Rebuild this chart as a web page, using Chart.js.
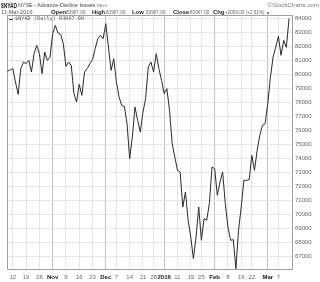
<!DOCTYPE html>
<html>
<head>
<meta charset="utf-8">
<script src="https://cdn.jsdelivr.net/npm/chart.js@4.4.0/dist/chart.umd.min.js"></script>
<style>
  body { margin: 0; background: #fff; }
  #wrap { position: relative; width: 320px; height: 282px; font-family: "Liberation Sans", Arial, sans-serif; color: #333; overflow: hidden; }
  #chart { position: absolute; left: 0; top: 0; }
  .t { position: absolute; white-space: nowrap; line-height: 1; font-size: 6px; transform-origin: left top; }
  .b { font-weight: bold; color: #222; transform: scale(.98); }
  .v { color: #666; transform: scale(.77); }
</style>
</head>
<body>
<div id="wrap">
  <canvas id="chart" width="320" height="282"></canvas>

  <div class="t" style="left:1px;top:1.6px;font-size:7px;font-weight:bold;color:#222;transform:scaleX(.7)">$NYAD</div>
  <div class="t" style="left:18px;top:2.4px;color:#444;transform:scale(.9)">NYSE - Advance-Decline Issues</div>
  <div class="t" style="left:97px;top:3.4px;color:#666;transform:scale(.7)">INDX</div>
  <div class="t" style="right:1px;top:2px;color:#777;transform-origin:right top;transform:scale(1.03)">©StockCharts.com</div>

  <div class="t" style="left:1px;top:8.8px;color:#555;transform:scale(.93)">11-Mar-2016</div>
  <div class="t b" style="left:51px;top:8.6px">Open</div>
  <div class="t v" style="left:66px;top:9.7px">83967.00</div>
  <div class="t b" style="left:92px;top:8.6px">High</div>
  <div class="t v" style="left:106px;top:9.7px">83967.00</div>
  <div class="t b" style="left:132px;top:8.6px">Low</div>
  <div class="t v" style="left:146px;top:9.7px">83967.00</div>
  <div class="t b" style="left:173px;top:8.6px">Close</div>
  <div class="t v" style="left:190px;top:9.7px">83967.00</div>
  <div class="t b" style="left:213px;top:8.6px">Chg</div>
  <div class="t v" style="left:225px;top:9.7px">+2059.00 (+2.51%) ▲</div>

  <div class="t" style="left:9px;top:18.5px;width:4px;height:1px;background:#333"></div>
  <div class="t" style="left:15px;top:16.4px;font-family:'DejaVu Sans Mono',monospace;color:#555;transform:scale(.87)">$NYAD (Daily) 83967.00</div>
</div>

<script>
const tradeDays = [
  '2015-10-08','2015-10-09','2015-10-12','2015-10-13','2015-10-14','2015-10-15','2015-10-16',
  '2015-10-19','2015-10-20','2015-10-21','2015-10-22','2015-10-23','2015-10-26','2015-10-27',
  '2015-10-28','2015-10-29','2015-10-30',
  '2015-11-02','2015-11-03','2015-11-04','2015-11-05','2015-11-06','2015-11-09','2015-11-10',
  '2015-11-11','2015-11-12','2015-11-13','2015-11-16','2015-11-17','2015-11-18','2015-11-19',
  '2015-11-20','2015-11-23','2015-11-24','2015-11-25','2015-11-27','2015-11-30',
  '2015-12-01','2015-12-02','2015-12-03','2015-12-04','2015-12-07','2015-12-08','2015-12-09',
  '2015-12-10','2015-12-11','2015-12-14','2015-12-15','2015-12-16','2015-12-17','2015-12-18',
  '2015-12-21','2015-12-22','2015-12-23','2015-12-24','2015-12-28','2015-12-29','2015-12-30',
  '2015-12-31',
  '2016-01-04','2016-01-05','2016-01-06','2016-01-07','2016-01-08','2016-01-11','2016-01-12',
  '2016-01-13','2016-01-14','2016-01-15','2016-01-19','2016-01-20','2016-01-21','2016-01-22',
  '2016-01-25','2016-01-26','2016-01-27','2016-01-28','2016-01-29',
  '2016-02-01','2016-02-02','2016-02-03','2016-02-04','2016-02-05','2016-02-08','2016-02-09',
  '2016-02-10','2016-02-11','2016-02-12','2016-02-16','2016-02-17','2016-02-18','2016-02-19',
  '2016-02-22','2016-02-23','2016-02-24','2016-02-25','2016-02-26','2016-02-29',
  '2016-03-01','2016-03-02','2016-03-03','2016-03-04','2016-03-07','2016-03-08','2016-03-09',
  '2016-03-10','2016-03-11'
];

const adValues = [
  80200, 80300, 80386, 79430, 78550, 80386, 80857, 80743, 80978, 80143,
  81457, 82050, 81457, 80028, 81571, 80978, 81214,
  82886, 83478, 82929, 82836, 82171, 80550, 80857, 80621, 78600, 78000,
  79264, 78479, 80143, 80386, 80743, 81028, 81814, 82529, 82764, 82529,
  83600, 81928, 80264, 81100, 79428, 78357, 77764, 77693, 76457, 73957,
  75500, 77643, 76693, 75857, 77286, 78243, 80500, 80857, 80143, 81457,
  80386, 79550,
  78600, 78957, 77407, 75028, 74071, 73121, 73000, 70500, 71571, 69550,
  68357, 66814, 68357, 70500, 68121, 69671, 69550, 70743, 73357,
  73243, 71336, 72286, 73000, 70743, 69071, 68121, 68171, 66100, 68836,
  70500, 72407, 72407, 72457, 74193, 73121, 74550, 75621, 76336, 76457,
  77886, 79786, 81214, 81928, 82693, 81336, 82407, 81908, 83967
];

const tickDays = ['2015-10-12','2015-10-19','2015-10-26','2015-11-02','2015-11-09','2015-11-16',
  '2015-11-23','2015-12-01','2015-12-07','2015-12-14','2015-12-21','2015-12-28','2016-01-04',
  '2016-01-11','2016-01-19','2016-01-25','2016-02-01','2016-02-08','2016-02-16','2016-02-22',
  '2016-03-01','2016-03-07'];
const tickText = ['12','19','26','Nov','9','16','23','Dec','7','14','21','28','2016',
  '11','19','25','Feb','8','16','22','Mar','7'];
const monthText = ['Nov','Dec','2016','Feb','Mar'];

const yTicks = [67000, 68000, 69000, 70000, 71000, 72000, 73000, 74000, 75000,
  76000, 77000, 78000, 79000, 80000, 81000, 82000, 83000, 84000];

const tickIdx = tickDays.map((d) => tradeDays.indexOf(d));
const isMonth = (i) => monthText.includes(tickText[i]);

// box around the plot area
const frame = {
  id: 'frame',
  beforeDatasetsDraw(chart) {
    const { ctx, chartArea: a } = chart;
    ctx.save();
    ctx.strokeStyle = '#a0a0a0';
    ctx.lineWidth = 1;
    ctx.strokeRect(Math.round(a.left) + 0.5, Math.round(a.top) + 0.5,
      Math.round(a.width) - 1, Math.round(a.height) - 1);
    ctx.restore();
  },
};

new Chart(document.getElementById('chart'), {
  type: 'line',
  data: {
    datasets: [
      {
        label: '$NYAD (Daily)',
        data: adValues.map((v, i) => ({ x: i, y: v })),
        borderColor: '#2a2a2a',
        borderWidth: 1,
        pointRadius: 0,
        tension: 0,
        fill: false,
      },
    ],
  },
  options: {
    responsive: false,
    animation: false,
    layout: { padding: { left: 7, top: 15, right: 0, bottom: 0 } },
    plugins: { legend: { display: false }, tooltip: { enabled: false } },
    scales: {
      x: {
        type: 'linear',
        min: -0.2,
        max: 107.5,
        afterBuildTicks: (s) => { s.ticks = tickIdx.map((v) => ({ value: v })); },
        afterFit: (s) => { s.height = 12; },
        border: { display: false },
        grid: {
          drawTicks: false,
          color: (c) => (isMonth(c.index) ? '#c2c2c2' : '#e6e6e6'),
        },
        ticks: {
          autoSkip: false,
          maxRotation: 0,
          padding: 4,
          color: (c) => (isMonth(c.index) ? '#222' : '#666'),
          font: (c) => ({ family: 'Liberation Sans', size: 6, weight: isMonth(c.index) ? 'bold' : 'normal' }),
          callback: (v, i) => tickText[i],
        },
      },
      y: {
        position: 'right',
        min: 66000,
        max: 84220,
        afterBuildTicks: (s) => { s.ticks = yTicks.map((v) => ({ value: v })); },
        afterFit: (s) => { s.width = 27; },
        border: { display: false },
        grid: { drawTicks: false, color: '#e6e6e6' },
        ticks: {
          padding: 2,
          color: '#666',
          font: { family: 'Liberation Sans', size: 6 },
          callback: (v) => String(v),
        },
      },
    },
  },
  plugins: [frame],
});
</script>
</body>
</html>
